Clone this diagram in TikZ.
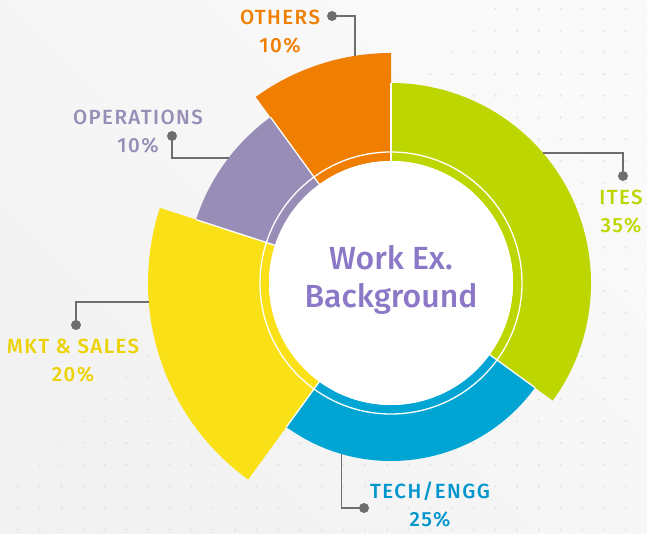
\documentclass[tikz,border=0pt]{standalone}
\usepackage{fontspec}
\setmainfont{Fira Sans}
\newfontfamily\lblfont{Fira Sans Medium}[LetterSpace=7]
\newfontfamily\titlefont{Fira Sans Medium}
\usetikzlibrary{positioning}

\definecolor{others}{RGB}{240,126,0}
\definecolor{ites}{RGB}{190,214,0}
\definecolor{tech}{RGB}{0,165,212}
\definecolor{mkt}{RGB}{250,224,22}
\definecolor{ops}{RGB}{151,141,183}
\definecolor{mktText}{RGB}{236,210,0}
\definecolor{techText}{RGB}{0,150,205}
\definecolor{centerText}{RGB}{139,121,200}
\definecolor{leadgray}{RGB}{110,110,110}
\definecolor{bgA}{RGB}{250,250,250}
\definecolor{bgB}{RGB}{242,242,242}
\definecolor{dotgray}{RGB}{229,229,229}

\begin{document}
\begin{tikzpicture}[x=1pt, y=1pt,
    lbl/.style={align=center, font=\lblfont\fontsize{20.5}{28}\selectfont},
    lead/.style={draw=leadgray, line width=1.6pt},
    pin dot/.style={circle, fill=leadgray, inner sep=0pt, minimum size=10pt},
    gap/.style={draw=white, line width=1.3pt}]

    % background
    \useasboundingbox (-391,-251) rectangle (256,283);
    \shade[left color=bgA, right color=bgB, shading angle=-45]
        (-391,-251) rectangle (256,283);
    \foreach \i in {0,...,29}{
      \foreach \j in {0,...,24}{
        \pgfmathtruncatemacro\dotOn{(\i+\j)>21 ? 1 : 0}
        \ifnum\dotOn=1
          \fill[dotgray] (-373+21.7*\i, 274-21.7*\j) circle[radius=1.3];
        \fi
      }
    }

    % segments, clockwise from the top
    \fill[ites] (90:122) arc[start angle=90, end angle=-36, radius=122]
        -- (-36:200) arc[start angle=-36, end angle=90, radius=200] -- cycle;
    \fill[tech] (-36:122) arc[start angle=-36, end angle=-126, radius=122]
        -- (-126:178) arc[start angle=-126, end angle=-36, radius=178] -- cycle;
    \fill[mkt] (-126:122) arc[start angle=-126, end angle=-198, radius=122]
        -- (-198:243) arc[start angle=-198, end angle=-126, radius=243] -- cycle;
    \fill[ops] (162:122) arc[start angle=162, end angle=126, radius=122]
        -- (126:205) arc[start angle=126, end angle=162, radius=205] -- cycle;
    \fill[others] (126:122) arc[start angle=126, end angle=90, radius=122]
        -- (90:230) arc[start angle=90, end angle=126, radius=230] -- cycle;

    % white gaps
    \draw[gap] (90:122) -- (90:200);
    \draw[gap] (-36:122) -- (-36:178);
    \draw[gap] (-126:122) -- (-126:178);
    \draw[gap] (162:122) -- (162:205);
    \draw[gap] (126:122) -- (126:205);
    \draw[gap] (0,0) circle[radius=131];
    \fill[white] (0,0) circle[radius=122];

    \node[align=center, text=centerText, font=\titlefont\fontsize{32}{38}\selectfont] (title) at (0,3) {Work Ex.\\Background};

    % leader dots and ends
    \node[pin dot] (dOT) at (-59,267) {};
    \node[pin dot] (dOP) at (-219,147) {};
    \node[pin dot] (dIT) at (232,107) {};
    \node[pin dot] (dMK) at (-315,-42) {};
    \node[pin dot] (dTE) at (-27,-225) {};
    \coordinate (eOT) at (99:230);
    \coordinate (eOP) at (142.4:205);
    \coordinate (eIT) at (40.5:200);
    \coordinate (eMK) at (184.5:243);
    \coordinate (eTE) at (253.8:178);

    \draw[lead] (dOT.center) -| (eOT);
    \draw[lead] (dOP.center) |- (eOP);
    \draw[lead] (dIT.center) |- (eIT);
    \draw[lead] (dMK.center) |- (eMK);
    \draw[lead] (dTE.center) -| (eTE);

    % labels
    \node[lbl, text=others] (lOT) at (-111,251) {OTHERS\\10\%};
    \node[lbl, text=ops] (lOP) at (-253,151) {OPERATIONS\\10\%};
    \node[lbl, text=ites] (lIT) at (230,71) {ITES\\35\%};
    \node[lbl, text=mktText] (lMK) at (-318,-78) {MKT \& SALES\\20\%};
    \node[lbl, text=techText] (lTE) at (39,-222) {TECH/ENGG\\25\%};
\end{tikzpicture}
\end{document}
